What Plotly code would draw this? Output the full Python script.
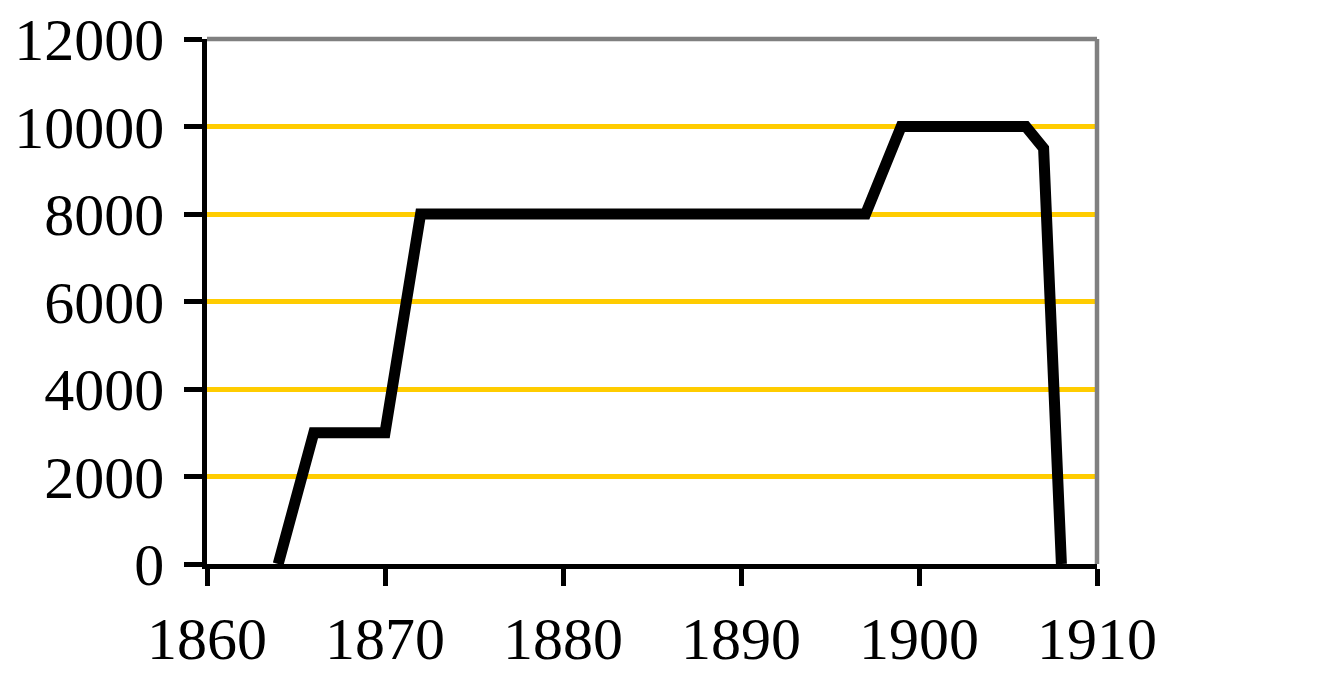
import plotly.graph_objects as go

years = [1864, 1866, 1870, 1872, 1897, 1899, 1906, 1907, 1908]
values = [0, 3000, 3000, 8000, 8000, 10000, 10000, 9500, 0]
x_ticks = [1860, 1870, 1880, 1890, 1900, 1910]
y_ticks = [0, 2000, 4000, 6000, 8000, 10000, 12000]

fig = go.Figure()
fig.add_trace(go.Scatter(x=years, y=values, mode="lines",
                         line=dict(color="black", width=11), showlegend=False))

font = dict(family="Liberation Serif, Times New Roman, serif", size=60, color="black")
fig.update_layout(
    width=1344, height=682,
    margin=dict(l=199, r=255, t=31, b=126, autoexpand=False),
    paper_bgcolor="white", plot_bgcolor="white",
    font=font,
    xaxis=dict(range=[1860, 1910], tickvals=x_ticks, ticktext=[str(v) for v in x_ticks],
               showgrid=False, zeroline=False, automargin=False,
               showline=True, linecolor="black", linewidth=4.5,
               ticks="outside", ticklen=17, tickwidth=4.5, tickcolor="black",
               ticklabelstandoff=1, ticklabeloverflow="allow", tickfont=font),
    yaxis=dict(range=[0, 12000], tickvals=y_ticks, ticktext=[str(v) for v in y_ticks],
               showgrid=True, gridcolor="#FFCC00", automargin=False,
               gridwidth=4.5, zeroline=False,
               showline=True, linecolor="black", linewidth=4.5,
               ticks="outside", ticklen=18, tickwidth=4.5, tickcolor="black",
               ticklabelstandoff=8, ticklabeloverflow="allow", tickfont=font),
    shapes=[
        dict(type="line", xref="paper", yref="paper", x0=0, x1=1, y0=1, y1=1,
             line=dict(color="#808080", width=4.5)),
        dict(type="line", xref="paper", yref="paper", x0=1, x1=1, y0=0, y1=1,
             line=dict(color="#808080", width=4.5)),
    ],
)
fig.write_html("out.html")
